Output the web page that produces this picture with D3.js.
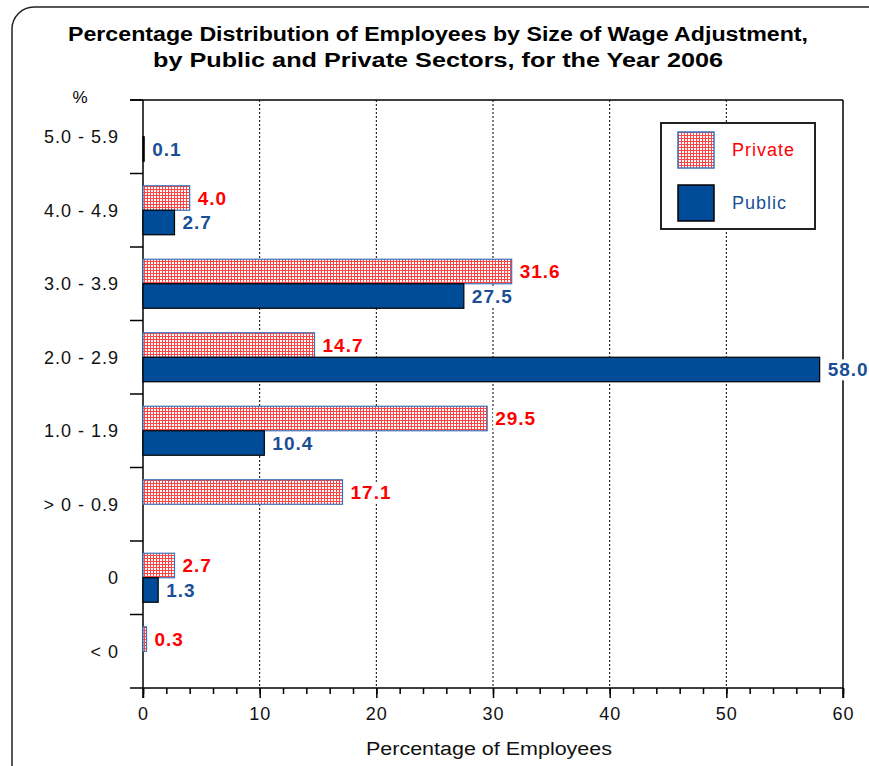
<!DOCTYPE html>
<html>
<head>
<meta charset="utf-8">
<script src="https://cdn.jsdelivr.net/npm/d3@7"></script>
<style>
  body { margin: 0; background: #fff; }
  text { font-family: "Liberation Sans", Arial, sans-serif; }
</style>
</head>
<body>
<svg id="canvas" width="869" height="766"></svg>
<script>
// data, top row first
let categories = ['5.0 - 5.9', '4.0 - 4.9', '3.0 - 3.9', '2.0 - 2.9', '1.0 - 1.9', '> 0 - 0.9', '0', '< 0']
let privateValues = [null, 4.0, 31.6, 14.7, 29.5, 17.1, 2.7, 0.3]
let publicValues = [0.1, 2.7, 27.5, 58.0, 10.4, null, 1.3, null]
let seriesNames = ['Private', 'Public']
let xTicks = [0, 10, 20, 30, 40, 50, 60]

let svg = d3.select('#canvas')

let plotLeft = 143, plotRight = 843, plotTop = 100, plotBottom = 688

// outer rounded frame
svg.append('rect')
    .attr('x', 12).attr('y', 7)
    .attr('width', 880).attr('height', 780)
    .attr('rx', 22)
    .attr('fill', 'none')
    .attr('stroke', '#222')
    .attr('stroke-width', 1.5)

// red dotted fill for private bars
let defs = svg.append('defs')
let pat = defs.append('pattern')
    .attr('id', 'dots')
    .attr('width', 3).attr('height', 3)
    .attr('patternUnits', 'userSpaceOnUse')
pat.append('rect').attr('width', 3).attr('height', 3).attr('fill', '#fff')
pat.append('rect').attr('width', 3).attr('height', 1).attr('fill', '#f44')
pat.append('rect').attr('width', 1).attr('height', 3).attr('fill', '#f44')

// title
svg.append('text')
    .attr('x', 438).attr('y', 41)
    .attr('text-anchor', 'middle')
    .attr('textLength', 740).attr('lengthAdjust', 'spacingAndGlyphs')
    .style('font-size', '20px').style('font-weight', 'bold')
    .text('Percentage Distribution of Employees by Size of Wage Adjustment,')
svg.append('text')
    .attr('x', 438).attr('y', 67)
    .attr('text-anchor', 'middle')
    .attr('textLength', 570).attr('lengthAdjust', 'spacingAndGlyphs')
    .style('font-size', '20px').style('font-weight', 'bold')
    .text('by Public and Private Sectors, for the Year 2006')

let x = d3.scaleLinear().domain([0, 60]).range([plotLeft, plotRight])
let y = d3.scaleBand().domain(categories).range([plotTop, plotBottom])
let inner = d3.scaleBand().domain(seriesNames).range([0, y.bandwidth()]).paddingOuter(0.5).paddingInner(0)

// dotted grid lines
svg.selectAll('.grid')
    .data(xTicks.slice(1, -1))
    .enter().append('line')
    .attr('x1', d => x(d)).attr('x2', d => x(d))
    .attr('y1', plotTop).attr('y2', plotBottom)
    .attr('stroke', '#000')
    .attr('stroke-dasharray', '2,2')

// top and right frame of the plot
svg.append('line')
    .attr('x1', plotLeft - 13).attr('x2', plotRight)
    .attr('y1', plotTop).attr('y2', plotTop)
    .attr('stroke', '#000').attr('stroke-width', 1.5)
svg.append('line')
    .attr('x1', plotRight).attr('x2', plotRight)
    .attr('y1', plotTop).attr('y2', plotBottom + 10)
    .attr('stroke', '#000').attr('stroke-width', 1.5)

// x axis with minor ticks
let xAxis = svg.append('g')
    .attr('transform', 'translate(0,' + plotBottom + ')')
    .call(d3.axisBottom(x).tickValues(d3.range(0, 61, 2)).tickSize(6).tickFormat(''))
let xMajor = svg.append('g')
    .attr('transform', 'translate(0,' + plotBottom + ')')
    .call(d3.axisBottom(x).tickValues(xTicks).tickSize(10).tickPadding(9).tickFormat(d3.format('d')))
xMajor.select('.domain').remove()
xAxis.select('.domain').attr('d', 'M' + (plotLeft - 13) + ',0H' + plotRight).attr('stroke-width', 1.5)
svg.selectAll('.tick line').attr('stroke-width', 1.5)
xMajor.selectAll('text')
    .style('font-size', '18px').style('letter-spacing', '1px')
    .attr('fill', '#111')

// y axis, ticks on category boundaries
let yAxis = svg.append('g').attr('transform', 'translate(' + plotLeft + ',0)')
yAxis.append('line')
    .attr('y1', plotTop).attr('y2', plotBottom + 10)
    .attr('stroke', '#000').attr('stroke-width', 1.5)
yAxis.selectAll('.ytick')
    .data(categories)
    .enter().append('line')
    .attr('x1', -13).attr('x2', 0)
    .attr('y1', d => y(d)).attr('y2', d => y(d))
    .attr('stroke', '#000').attr('stroke-width', 1.5)
yAxis.selectAll('.ylab')
    .data(categories)
    .enter().append('text')
    .attr('x', -24)
    .attr('y', d => y(d) + y.bandwidth() / 2)
    .attr('dy', '0.35em')
    .attr('text-anchor', 'end')
    .style('font-size', '18px').style('letter-spacing', '1px')
    .attr('fill', '#111')
    .text(d => d)

svg.append('text')
    .attr('x', 80).attr('y', 103)
    .attr('text-anchor', 'middle')
    .style('font-size', '17px')
    .text('%')

svg.append('text')
    .attr('x', 489).attr('y', 755)
    .attr('text-anchor', 'middle')
    .attr('textLength', 246).attr('lengthAdjust', 'spacingAndGlyphs')
    .style('font-size', '18px')
    .attr('fill', '#111')
    .text('Percentage of Employees')

let series = [
    {name: 'Private', values: privateValues, fill: 'url(#dots)', stroke: '#3b73b9', label: '#ff0000'},
    {name: 'Public', values: publicValues, fill: '#004c99', stroke: '#000', label: '#1a4f96'}
]

series.forEach(s => {
    let rows = categories.map((c, i) => ({cat: c, v: s.values[i]})).filter(d => d.v != null)
    let g = svg.append('g')
    g.selectAll('rect')
        .data(rows)
        .enter().append('rect')
        .attr('x', x(0))
        .attr('y', d => y(d.cat) + inner(s.name))
        .attr('width', d => x(d.v) - x(0))
        .attr('height', inner.bandwidth())
        .attr('fill', s.fill)
        .attr('stroke', s.stroke)
        .attr('stroke-width', 1.2)
})

// value labels sit on a white box that hides the grid behind them
series.forEach(s => {
    let rows = categories.map((c, i) => ({cat: c, v: s.values[i]})).filter(d => d.v != null)
    let lab = svg.append('g').selectAll('g')
        .data(rows)
        .enter().append('g')
        .attr('transform', d => 'translate(' + (x(d.v) + 8) + ',' + (y(d.cat) + inner(s.name) + inner.bandwidth() / 2) + ')')
    let txt = lab.append('text')
        .attr('dy', '0.36em')
        .style('font-size', '19px').style('font-weight', 'bold').style('letter-spacing', '1px')
        .attr('fill', s.label)
        .text(d => d3.format('.1f')(d.v))
    lab.each(function() {
        let bb = d3.select(this).select('text').node().getBBox()
        d3.select(this).insert('rect', 'text')
            .attr('x', bb.x - 2).attr('y', bb.y)
            .attr('width', bb.width + 2).attr('height', bb.height)
            .attr('fill', '#fff')
    })
})

// legend
let legend = svg.append('g')
legend.append('rect')
    .attr('x', 661).attr('y', 123)
    .attr('width', 154).attr('height', 106)
    .attr('fill', '#fff')
    .attr('stroke', '#222').attr('stroke-width', 2)
series.forEach((s, i) => {
    legend.append('rect')
        .attr('x', 678).attr('y', 132 + i * 53)
        .attr('width', 36).attr('height', 36)
        .attr('fill', s.fill)
        .attr('stroke', s.stroke).attr('stroke-width', 1.5)
    legend.append('text')
        .attr('x', 732).attr('y', 150 + i * 53)
        .attr('dy', '0.35em')
        .style('font-size', '18px').style('letter-spacing', '1px')
        .attr('fill', i == 0 ? '#ff0000' : '#1a4f96')
        .text(s.name)
})
</script>
</body>
</html>
